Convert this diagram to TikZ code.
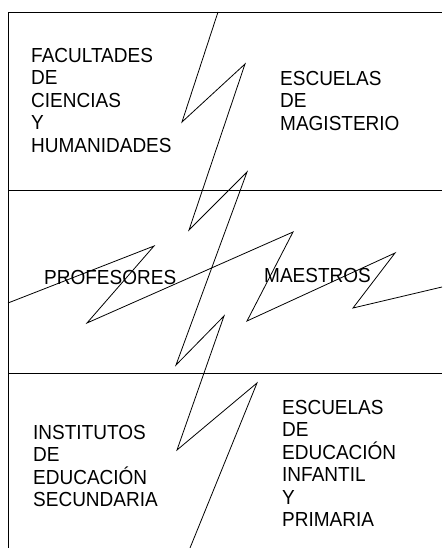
\documentclass[tikz,border=0pt]{standalone}
\usepackage{fontspec}
\setmainfont{Liberation Sans}
\begin{document}
\begin{tikzpicture}[x=1pt,y=-1pt,
  lbl/.style={anchor=north west,inner sep=0pt,align=left,
    font=\fontsize{19}{21}\selectfont,yscale=1.07,transform shape},
  ln/.style={line width=0.8pt,black}]
\useasboundingbox (0,0) rectangle (442,548);
% frame
\draw[ln] (8,548) -- (8,12) -- (442,12);
\draw[ln] (8,190) -- (442,190);
\draw[ln] (8,373) -- (442,373);
% vertical bolt
\draw[ln,line join=miter] (218,12) -- (182,122) -- (245,64) -- (189,230) -- (247,172)
  -- (176,365) -- (224,316) -- (177,450) -- (257,383) -- (190,548);
% horizontal bolt
\draw[ln,line join=miter] (8,303) -- (154,246) -- (87,323) -- (293,232) -- (247,321)
  -- (395,253) -- (353,308) -- (442,287);
% texts
\node[lbl] (fac) at (31,48) {FACULTADES\\DE\\CIENCIAS\\Y\\HUMANIDADES};
\node[lbl] (mag) at (280,71) {ESCUELAS\\DE\\MAGISTERIO};
\node[lbl] (prof) at (44,270) {PROFESORES};
\node[lbl] (maes) at (264,268) {MAESTROS};
\node[lbl] (ins) at (33,425) {INSTITUTOS\\DE\\EDUCACIÓN\\SECUNDARIA};
\node[lbl] (esc) at (282,400) {ESCUELAS\\DE\\EDUCACIÓN\\INFANTIL\\Y\\PRIMARIA};
\end{tikzpicture}
\end{document}
